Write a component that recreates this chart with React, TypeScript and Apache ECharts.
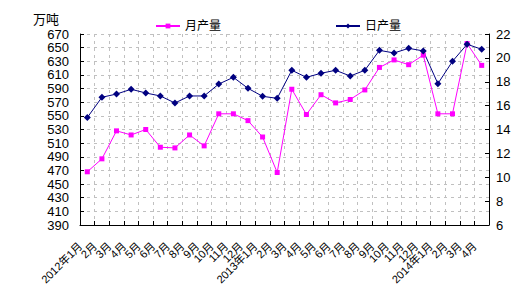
import React, { useEffect, useRef } from "react";
import * as echarts from "echarts";

const categories = [
  "2012年1月", "2月", "3月", "4月", "5月", "6月", "7月", "8月", "9月", "10月", "11月", "12月",
  "2013年1月", "2月", "3月", "4月", "5月", "6月", "7月", "8月", "9月", "10月", "11月", "12月",
  "2014年1月", "2月", "3月", "4月",
];

const monthlyOutput = [
  468, 487, 528, 522, 530, 504, 503, 522, 506, 553, 553, 543,
  519, 467, 589, 552, 581, 569, 574, 588, 621, 632, 625, 639,
  553, 553, 656, 624,
];

const dailyOutput = [
  15.0, 16.7, 16.97, 17.37, 17.06, 16.81, 16.22, 16.81, 16.81, 17.81, 18.37, 17.45,
  16.78, 16.61, 18.96, 18.37, 18.71, 18.96, 18.48, 18.96, 20.63, 20.41, 20.8, 20.58,
  17.84, 19.71, 21.14, 20.72,
];

const FONT = "'Liberation Sans', 'Noto Sans CJK SC', sans-serif";

export default function App() {
  const ref = useRef<HTMLDivElement>(null);
  useEffect(() => {
    if (!ref.current) return;
    const chart = echarts.init(ref.current, undefined, { renderer: "svg" });
    chart.setOption({
      animation: false,
      backgroundColor: "#ffffff",
      textStyle: { fontFamily: FONT, color: "#000" },
      grid: { left: 80, right: 31, top: 34, bottom: 69, containLabel: false },
      graphic: [
        {
          type: "text",
          left: 33,
          top: 13,
          style: { text: "万吨", font: `13px ${FONT}`, fill: "#000" },
        },
      ],
      legend: [
        {
          data: ["月产量"],
          left: 150,
          top: 15,
          itemWidth: 24,
          itemHeight: 6,
          itemGap: 4,
          textStyle: { fontSize: 12, color: "#000", fontFamily: FONT },
        },
        {
          data: ["日产量"],
          left: 330,
          top: 15,
          itemWidth: 24,
          itemHeight: 6,
          itemGap: 4,
          textStyle: { fontSize: 12, color: "#000", fontFamily: FONT },
        },
      ],
      xAxis: {
        type: "category",
        data: categories,
        boundaryGap: true,
        axisLine: { show: true, lineStyle: { color: "#000", width: 1 } },
        axisTick: { show: true, inside: true, length: 4, lineStyle: { color: "#000" } },
        splitLine: { show: true, lineStyle: { color: "#c0c0c0", type: [3, 4], width: 1 } },
        axisLabel: {
          interval: 0,
          rotate: 45,
          fontSize: 11,
          margin: 12,
          padding: [0, 10, 0, 0],
          color: "#000",
          fontFamily: FONT,
        },
      },
      yAxis: [
        {
          type: "value",
          position: "left",
          min: 390,
          max: 670,
          interval: 20,
          axisLine: { show: true, lineStyle: { color: "#000", width: 1 } },
          axisTick: { show: true, inside: true, length: 4, lineStyle: { color: "#000" } },
          splitLine: { show: true, lineStyle: { color: "#c0c0c0", type: [3, 4], width: 1 } },
          axisLabel: { fontSize: 13, margin: 11, color: "#000", fontFamily: FONT },
        },
        {
          type: "value",
          position: "right",
          min: 6,
          max: 22,
          interval: 2,
          axisLine: { show: true, lineStyle: { color: "#000", width: 1 } },
          axisTick: { show: true, inside: true, length: 4, lineStyle: { color: "#000" } },
          splitLine: { show: false },
          axisLabel: { fontSize: 13, margin: 7, color: "#000", fontFamily: FONT },
        },
      ],
      series: [
        {
          name: "月产量",
          type: "line",
          yAxisIndex: 0,
          data: monthlyOutput,
          symbol: "rect",
          symbolSize: 5,
          color: "#ff00ff",
          lineStyle: { color: "#ff00ff", width: 1 },
          itemStyle: { color: "#ff00ff" },
        },
        {
          name: "日产量",
          type: "line",
          yAxisIndex: 1,
          data: dailyOutput,
          symbol: "diamond",
          symbolSize: 7,
          color: "#000080",
          lineStyle: { color: "#000080", width: 1 },
          itemStyle: { color: "#000080" },
        },
      ],
    });
    return () => chart.dispose();
  }, []);
  return (
    <div
      ref={ref}
      style={{ position: "absolute", left: 0, top: 0, width: 520, height: 294 }}
    />
  );
}
